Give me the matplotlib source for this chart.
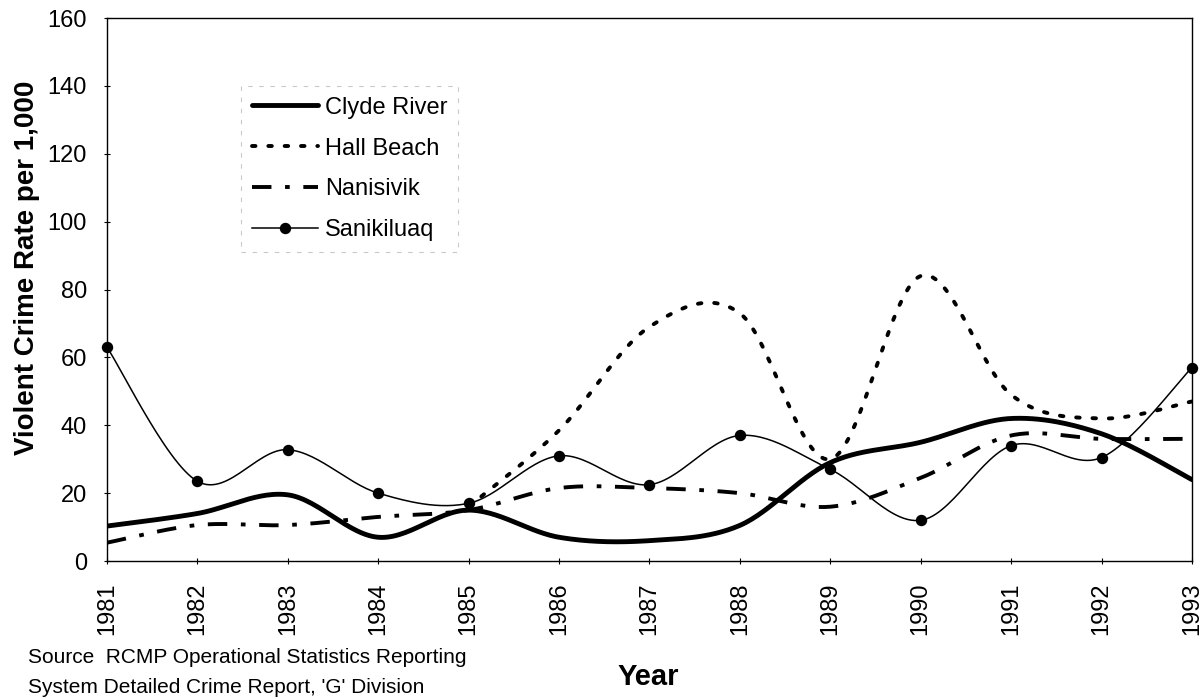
import matplotlib
matplotlib.use("Agg")
import matplotlib.pyplot as plt
import numpy as np

years = [1981, 1982, 1983, 1984, 1985, 1986, 1987, 1988, 1989, 1990, 1991, 1992, 1993]
clyde_river = [10.3, 14, 19.5, 7, 15, 7, 6, 10.5, 29, 35, 42, 37.5, 24]
hall_beach = [None, None, None, None, 16, 38.5, 69, 73, 30, 84, 49, 42, 47]
nanisivik = [5.4, 10.6, 10.6, 13, 15, 21.5, 21.5, 20, 16, 24.5, 37, 36, 36]
sanikiluaq = [63, 23.5, 32.8, 20, 17, 31, 22.5, 37, 27, 12, 34, 30.5, 57]

plt.rcParams["font.family"] = ["Liberation Sans", "DejaVu Sans"]


def smooth(xs, ys, steps=30):
    # Excel-style smoothed line (Catmull-Rom bezier through the points)
    pts = [(x, y) for x, y in zip(xs, ys) if y is not None]
    px = np.array([p[0] for p in pts], dtype=float)
    py = np.array([p[1] for p in pts], dtype=float)
    out_x, out_y = [], []
    n = len(px)
    for i in range(n - 1):
        x0, y0 = (px[i - 1], py[i - 1]) if i > 0 else (px[i], py[i])
        x3, y3 = (px[i + 2], py[i + 2]) if i + 2 < n else (px[i + 1], py[i + 1])
        x1, y1, x2, y2 = px[i], py[i], px[i + 1], py[i + 1]
        c1x, c1y = x1 + (x2 - x0) / 6, y1 + (y2 - y0) / 6
        c2x, c2y = x2 - (x3 - x1) / 6, y2 - (y3 - y1) / 6
        t = np.linspace(0, 1, steps, endpoint=(i == n - 2))
        out_x.extend((1 - t) ** 3 * x1 + 3 * (1 - t) ** 2 * t * c1x + 3 * (1 - t) * t ** 2 * c2x + t ** 3 * x2)
        out_y.extend((1 - t) ** 3 * y1 + 3 * (1 - t) ** 2 * t * c1y + 3 * (1 - t) * t ** 2 * c2y + t ** 3 * y2)
    return out_x, out_y


fig = plt.figure(figsize=(12.03, 6.99), dpi=100)
ax = fig.add_axes([0.0889, 0.1974, 0.9019, 0.7768])

x, y = smooth(years, clyde_river)
ax.plot(x, y, color='black', lw=3.5, label="Clyde River", solid_capstyle='round')
x, y = smooth(years, hall_beach)
ax.plot(x, y, color='black', lw=2.8, dashes=(0.9, 3.3), dash_capstyle='round', label="Hall Beach")
x, y = smooth(years, nanisivik)
ax.plot(x, y, color='black', lw=2.8, dashes=(5, 3.5, 1.2, 3.5), label="Nanisivik")
x, y = smooth(years, sanikiluaq)
ax.plot(x, y, color='black', lw=1.1)
ax.plot(years, sanikiluaq, 'o', color='black', ms=7.2, clip_on=False, zorder=5)
ax.plot([], [], color='black', lw=1.1, marker='o', ms=7.2, label="Sanikiluaq")

ax.set_xlim(1981, 1993)
ax.set_ylim(0, 160)
ax.set_xticks(years)
ax.set_xticklabels([str(yr) for yr in years], rotation=90, fontsize=17)
ax.set_yticks(range(0, 161, 20))
ax.tick_params(axis='y', labelsize=17, direction='inout', length=5, width=0.8, pad=12)
ax.tick_params(axis='x', direction='inout', length=5, width=0.8, pad=13)
for s in ax.spines.values():
    s.set_linewidth(1.0)

fig.text(27 / 1203, 1 - 268 / 699, "Violent Crime Rate per 1,000", fontsize=20, fontweight='bold',
         rotation=90, ha='center', va='center')
fig.text(648 / 1203, 0.02, "Year", fontsize=21, fontweight='bold', ha='center', va='baseline')
fig.text(28 / 1203, 0.0515, "Source  RCMP Operational Statistics Reporting", fontsize=15, va='baseline')
fig.text(28 / 1203, 0.0086, "System Detailed Crime Report, 'G' Division", fontsize=15, va='baseline')

leg = ax.legend(loc='upper left', bbox_to_anchor=(0.1235, 0.8748), fontsize=17,
                handlelength=2.8, handletextpad=0.3, labelspacing=0.8,
                frameon=True, fancybox=False, borderpad=0.45, borderaxespad=0)
leg.get_frame().set_edgecolor('#bbbbbb')
leg.get_frame().set_linestyle((0, (4, 6)))
leg.get_frame().set_linewidth(0.8)

fig.savefig("out.png", dpi=100)
